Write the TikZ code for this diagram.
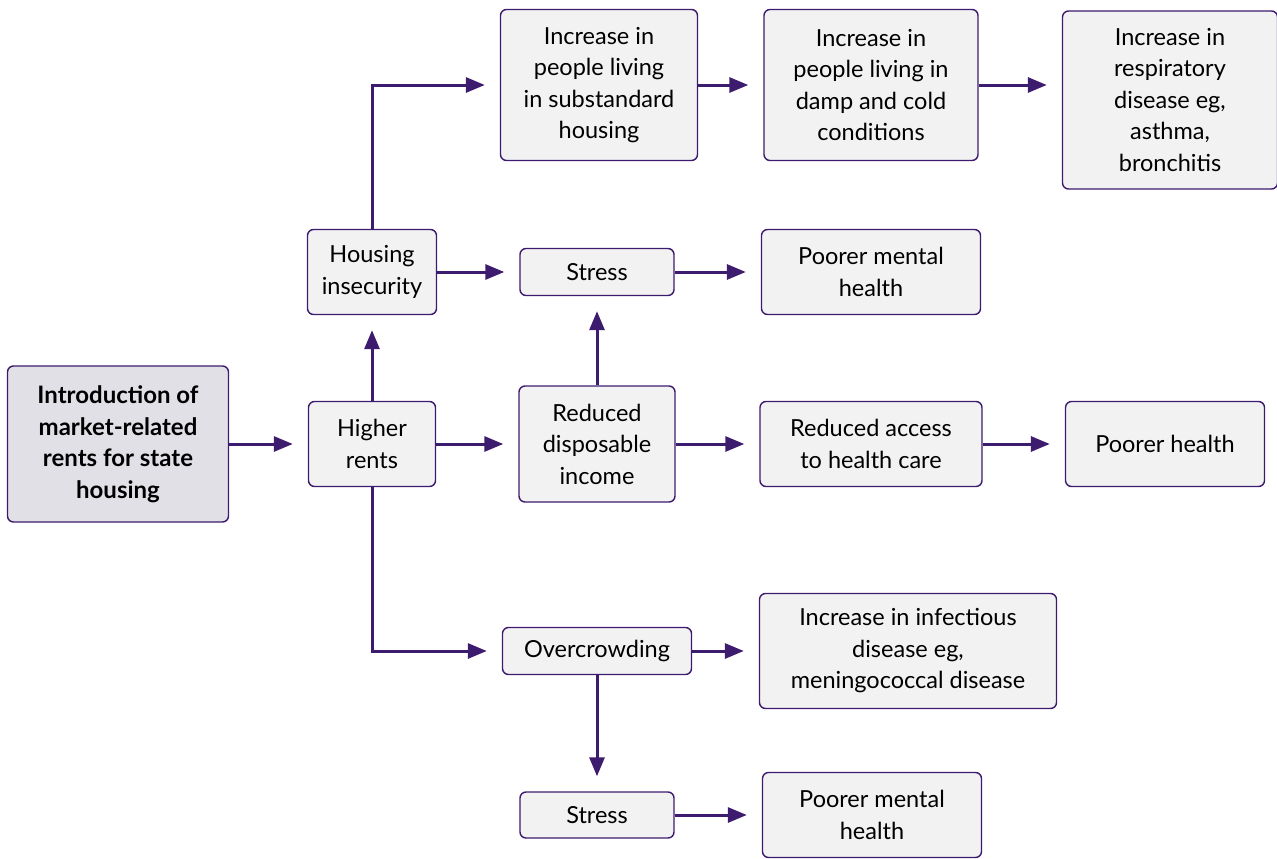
\documentclass[tikz,border=0pt]{standalone}
\usepackage{fontspec}
\setmainfont{Lato}
\usetikzlibrary{arrows.meta}
\definecolor{plum}{RGB}{61,27,110}
\definecolor{boxgray}{RGB}{242,242,242}
\definecolor{introgray}{RGB}{225,224,230}
\tikzset{
  flowbox/.style={draw=plum, line width=1.4pt, rounded corners=6pt, fill=boxgray,
    align=center, inner sep=0pt, font=\fontsize{23.5}{31.5}\selectfont},
  flowarrow/.style={draw=plum, line width=3pt, -{Triangle[length=19pt,width=15pt]}, shorten >=15pt},
}
\begin{document}
\begin{tikzpicture}[x=1pt,y=1pt,yscale=-1,xscale=1]
\useasboundingbox (0,0) rectangle (1277,859);

%Boxes: left column
\node[flowbox, fill=introgray, minimum width=221, minimum height=156, font=\fontsize{24}{31.5}\selectfont\bfseries] (intro) at (118,444) {Introduction of\\market-related\\rents for state\\housing};
\node[flowbox, minimum width=127, minimum height=85] (high) at (372,444) {Higher\\rents};
\node[flowbox, minimum width=129, minimum height=85] (hous) at (372,272) {Housing\\insecurity};

%Boxes: top row
\node[flowbox, minimum width=197, minimum height=151] (sub) at (599,85) {Increase in\\people living\\in substandard\\housing};
\node[flowbox, minimum width=214, minimum height=151] (damp) at (871,85) {Increase in\\people living in\\damp and cold\\conditions};
\node[flowbox, minimum width=215, minimum height=178] (resp) at (1170,100) {Increase in\\respiratory\\disease eg,\\asthma,\\bronchitis};

%Boxes: stress row
\node[flowbox, minimum width=154, minimum height=47] (stressa) at (597,272) {Stress};
\node[flowbox, minimum width=219, minimum height=85] (menta) at (871,272) {Poorer mental\\health};

%Boxes: income row
\node[flowbox, minimum width=156, minimum height=116] (income) at (597,444) {Reduced\\disposable\\income};
\node[flowbox, minimum width=222, minimum height=85] (access) at (871,444) {Reduced access\\to health care};
\node[flowbox, minimum width=199, minimum height=85] (health) at (1165,444) {Poorer health};

%Boxes: overcrowding
\node[flowbox, minimum width=189, minimum height=47] (crowd) at (597,651) {Overcrowding};
\node[flowbox, minimum width=297, minimum height=115] (infect) at (908,651) {Increase in infectious\\disease eg,\\meningococcal disease};
\node[flowbox, minimum width=154, minimum height=46] (stressb) at (597,815) {Stress};
\node[flowbox, minimum width=219, minimum height=85] (mentb) at (872,815) {Poorer mental\\health};

%Connectors
\draw[flowarrow] (intro) -- (high);
\draw[flowarrow] (high) -- (hous);
\draw[flowarrow] (high) -- (income);
\draw[flowarrow] (hous.north) |- (sub.west);
\draw[flowarrow] (hous) -- (stressa);
\draw[flowarrow] (high.south) |- (crowd.west);
\draw[flowarrow] (sub) -- (damp);
\draw[flowarrow] (damp.east) -- (damp.east -| resp.west);
\draw[flowarrow] (stressa) -- (menta);
\draw[flowarrow] (income) -- (stressa);
\draw[flowarrow] (income) -- (access);
\draw[flowarrow] (access) -- (health);
\draw[flowarrow] (crowd) -- (infect);
\draw[flowarrow] (crowd) -- (stressb);
\draw[flowarrow] (stressb) -- (mentb);
\end{tikzpicture}
\end{document}
